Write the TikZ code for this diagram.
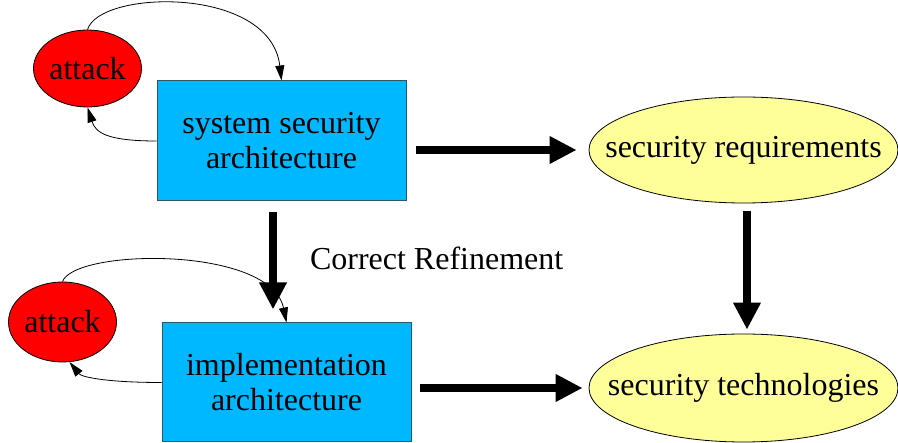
\documentclass[tikz,border=0pt]{standalone}
\usepackage{fontspec}
\setmainfont{Liberation Serif}
\usetikzlibrary{arrows.meta, positioning, shapes.geometric}
\definecolor{archblue}{HTML}{00B8FF}
\definecolor{archedge}{HTML}{2A5868}
\definecolor{threatred}{HTML}{FF0000}
\definecolor{reqyellow}{HTML}{FFFF99}
\tikzset{
  archbox/.style={rectangle, draw=archedge, fill=archblue, line width=1pt,
                  minimum width=249pt, minimum height=#1, align=center},
  archbox/.default=120pt,
  oval/.style={ellipse, draw=black, line width=0.8pt, fill=#1, inner sep=0pt},
  thin arr/.style={-{Triangle[length=15pt, width=9pt]}, line width=0.8pt},
  big arr/.style={-{Triangle[length=27pt, width=26pt]}, line width=8pt},
}

\begin{document}
\begin{tikzpicture}[x=1pt, y=-1pt, every node/.style={font=\fontsize{32}{35}\selectfont}]
  \useasboundingbox (0,0) rectangle (898,443);
  % architecture levels
  \node[archbox] (sys) at (281.5,141) {system security\\architecture};
  \node[archbox=119pt] (impl) at (286.5,382.5) {implementation\\architecture};
  % attackers on each level
  \node[oval=threatred, minimum width=103pt, minimum height=77pt] (atk1) at (87.5,68.5) {attack};
  \node[oval=threatred, minimum width=103pt, minimum height=80pt] (atk2) at (62.5,322) {attack};
  % security side
  \node[oval=reqyellow, minimum width=309pt, minimum height=106pt,
        label={center:security requirements}] (req) at (743.5,150) {};
  \node[oval=reqyellow, minimum width=309pt, minimum height=108pt,
        label={center:security technologies}] (tech) at (743.5,388) {};

  % attack loops
  \draw[thin arr] (atk1.north) .. controls +(12,-40) and +(-11,-95) .. (sys.north);
  \draw[thin arr] (sys.west) .. controls +(-50,0) and +(8,25) .. (atk1.south);
  \draw[thin arr] (atk2.north) .. controls +(12,-33) and +(-16,-77) .. (impl.north);
  \draw[thin arr] (impl.west) .. controls +(-55,0) and +(12,15) .. (atk2.-80);

  % main flow
  \draw[big arr, shorten <=11pt, shorten >=13pt]
    ([xshift=-8.5pt]sys.south) -- ([xshift=-8.5pt]sys.south |- impl.north)
    node[midway, right=33pt, inner sep=0pt, yshift=4pt] (refine) {Correct Refinement};
  \draw[big arr, shorten <=9pt, shorten >=12pt] (sys.east |- req.west) -- (req.west);
  \draw[big arr, shorten <=8pt, shorten >=6pt] (impl.east |- tech.west) -- (tech.west);
  \draw[big arr, shorten <=8pt, shorten >=4pt] ([xshift=3.5pt]req.south) -- ([xshift=3.5pt]tech.north);
\end{tikzpicture}
\end{document}
